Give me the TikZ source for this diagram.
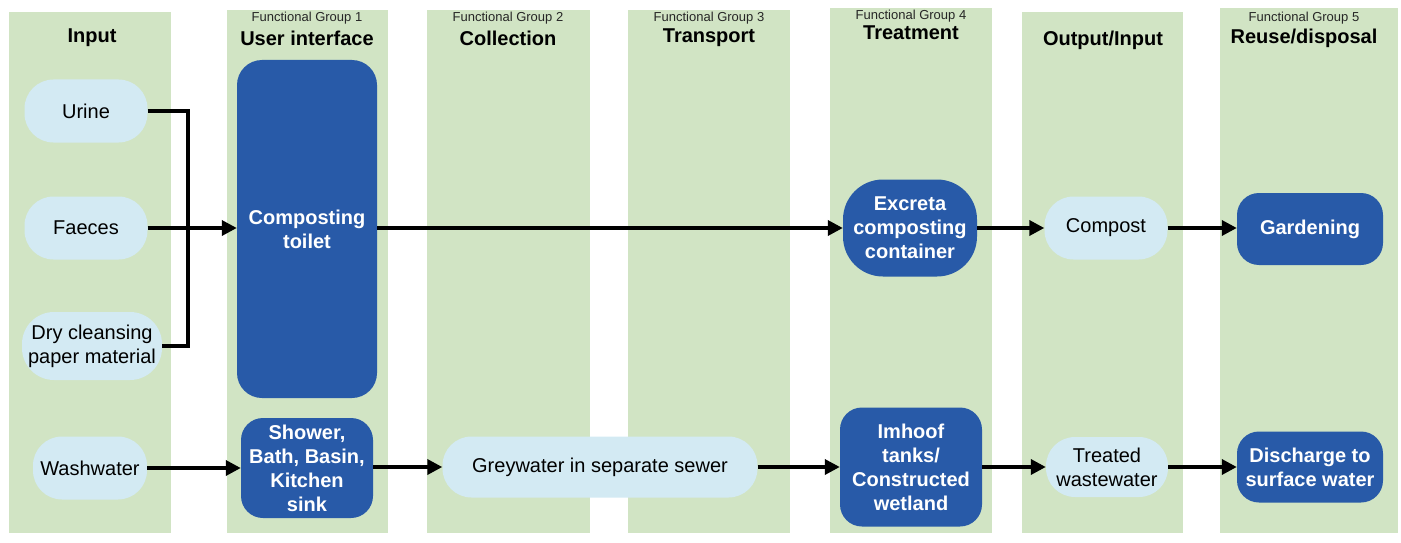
\documentclass[tikz,border=0pt]{standalone}
\usepackage{fontspec}
\setmainfont{Liberation Sans}
\usepackage{xcolor}
\usetikzlibrary{positioning,calc,arrows.meta}

\definecolor{colgreen}{RGB}{209,228,196}
\definecolor{prodblue}{RGB}{211,234,243}
\definecolor{techblue}{RGB}{40,90,168}

\begin{document}
\begin{tikzpicture}[x=1pt,y=-1pt,
    col/.style={fill=colgreen, draw=none},
    head/.style={font=\fontsize{20}{24}\selectfont\bfseries, inner sep=0pt},
    group/.style={font=\fontsize{13}{14}\selectfont, text=black!85, inner sep=0pt},
    product/.style={fill=prodblue, rounded corners=29pt, align=center, inner sep=0pt,
        font=\fontsize{20}{24}\selectfont},
    tech/.style={fill=techblue, text=white, rounded corners=22pt, align=center, inner sep=0pt,
        font=\fontsize{20}{24}\selectfont\bfseries},
    flow/.style={line width=3.5pt, -{Triangle[length=15pt,width=15pt]}},
    wire/.style={line width=3.5pt}]
    \useasboundingbox (0,0) rectangle (1401,543);

    % columns
    \fill[col] (9,12) rectangle (171,533);
    \fill[col] (227,10) rectangle (388,533);
    \fill[col] (427,10) rectangle (590,533);
    \fill[col] (628,10) rectangle (790,533);
    \fill[col] (830,8) rectangle (992,533);
    \fill[col] (1022,12) rectangle (1183,533);
    \fill[col] (1220,8) rectangle (1398,533);

    % headers
    \node[head] (hin) at (92,38) {Input};
    \node[group] (g1) at (307,18) {Functional Group 1};
    \node[head] (h1) at (307,38) {User interface};
    \node[group] (g2) at (508,18) {Functional Group 2};
    \node[head] (h2) at (508,38) {Collection};
    \node[group] (g3) at (709,18) {Functional Group 3};
    \node[head] (h3) at (709,38) {Transport};
    \node[group] (g4) at (911,16) {Functional Group 4};
    \node[head] (h4) at (911,33) {Treatment};
    \node[head] (hout) at (1103,40) {Output/Input};
    \node[group] (g5) at (1304,18) {Functional Group 5};
    \node[head] (h5) at (1304,38) {Reuse/disposal};

    % inputs
    \node[product, minimum width=123pt, minimum height=63pt] (urine) at (86,111) {Urine};
    \node[product, minimum width=123pt, minimum height=63pt] (faeces) at (86,228) {Faeces};
    \node[product, minimum width=140pt, minimum height=68pt, rounded corners=32pt] (dry) at (92,346) {Dry cleansing\\paper material};
    \node[product, minimum width=114pt, minimum height=63pt] (wash) at (90,468) {Washwater};

    % technologies and products
    \node[tech, minimum width=140pt, minimum height=338pt, rounded corners=25pt] (toilet) at (307,229) {Composting\\toilet};
    \node[tech, minimum width=132pt, minimum height=100pt] (shower) at (307,468) {Shower,\\Bath, Basin,\\Kitchen\\sink};
    \node[product, minimum width=315pt, minimum height=61pt] (grey) at (600,467) {Greywater in separate sewer};
    \node[tech, minimum width=134pt, minimum height=97pt, rounded corners=40pt] (excreta) at (910,228) {Excreta\\composting\\container};
    \node[tech, minimum width=142pt, minimum height=119pt] (imhoof) at (911,467) {Imhoof\\tanks/\\Constructed\\wetland};
    \node[product, minimum width=123pt, minimum height=63pt] (compost) at (1106,228) {Compost};
    \node[product, minimum width=122pt, minimum height=60pt] (treated) at (1107,467) {Treated\\wastewater};
    \node[tech, minimum width=146pt, minimum height=72pt] (garden) at (1310,229) {Gardening};
    \node[tech, minimum width=146pt, minimum height=71pt] (discharge) at (1310,467) {Discharge to\\surface water};

    % connectors
    \coordinate (bus) at (188,111);
    \draw[wire] (urine.east) -- (bus) -- (bus |- dry.east) -- (dry.east);
    \draw[flow] (faeces.east) -- (toilet.west |- faeces.east);
    \draw[flow] (toilet.east |- excreta.west) -- (excreta.west);
    \draw[flow] (excreta.east) -- (compost.west);
    \draw[flow] (compost.east) -- (garden.west |- compost.east);
    \draw[flow] (wash.east) -- (shower.west |- wash.east);
    \draw[flow] (shower.east |- grey.west) -- (grey.west);
    \draw[flow] (grey.east) -- (imhoof.west |- grey.east);
    \draw[flow] (imhoof.east |- treated.west) -- (treated.west);
    \draw[flow] (treated.east) -- (discharge.west |- treated.east);
\end{tikzpicture}
\end{document}
